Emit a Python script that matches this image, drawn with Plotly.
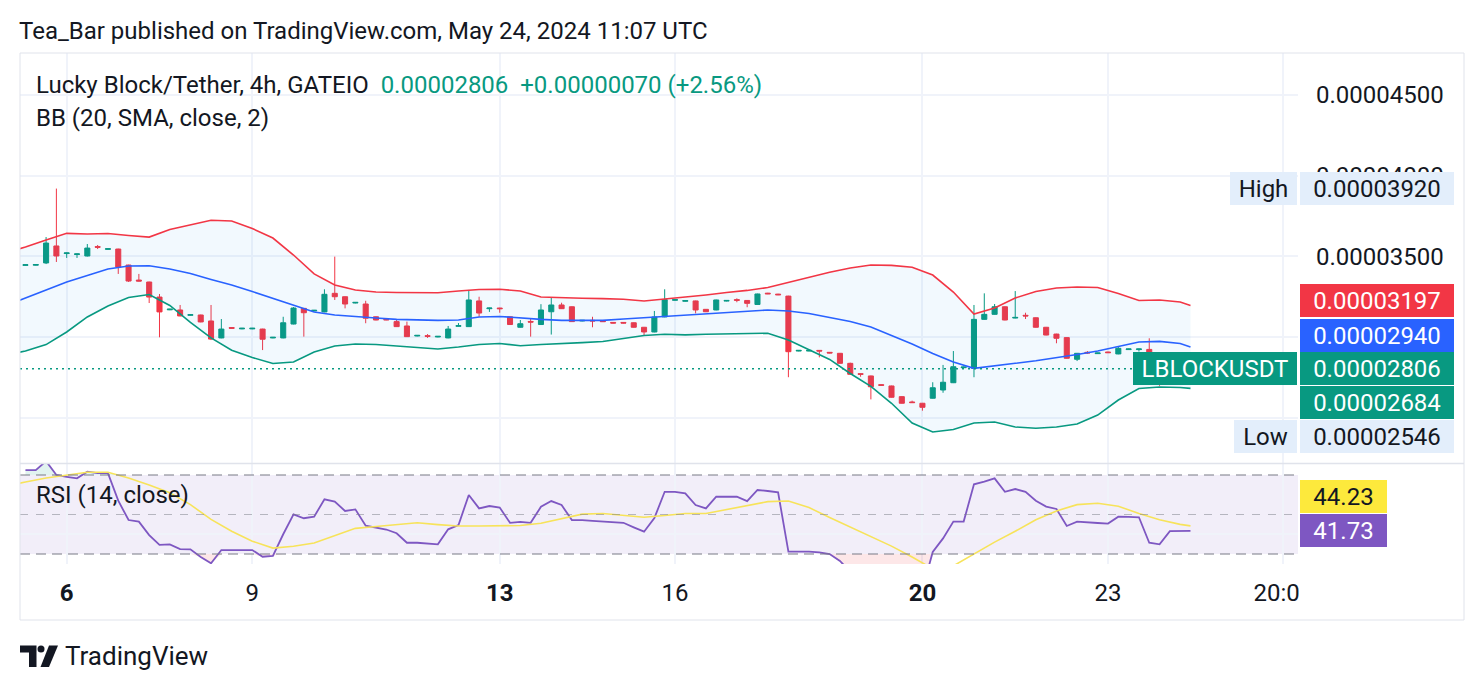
import numpy as np
import pandas as pd
import plotly.graph_objects as go

# ---------------- data ----------------
# 4h candles of LBLOCK/USDT (GATEIO); prices in units of 1e-8 USDT
open_e8 = [3445, 3446, 3460, 3565, 3518, 3512, 3503, 3561, 3544, 3546,
           3447, 3354, 3342, 3249, 3170, 3169, 3136, 3138, 3101, 2996,
           3060, 3052, 3052, 3051, 2996, 2996, 3082, 3179, 3163, 3157,
           3272, 3251, 3212, 3206, 3127, 3112, 3097, 3070, 3008, 3010,
           3002, 2996, 3068, 3066, 3225, 3177, 3181, 3127, 3062, 3098,
           3079, 3158, 3200, 3189, 3101, 3105, 3101, 3092, 3092, 3090,
           3062, 3033, 3126, 3229, 3223, 3225, 3173, 3169, 3224, 3233,
           3228, 3203, 3273, 3267, 3255, 2915, 2915, 2919, 2907, 2901,
           2839, 2775, 2761, 2707, 2699, 2633, 2600, 2592, 2623, 2674,
           2719, 2812, 2808, 3111, 3142, 3189, 3119, 3136, 3121, 3062,
           3020, 2998, 2864, 2907, 2899, 2909, 2897, 2924, 2924, 2925,
           2760, 2730, 2790, 2736]
high_e8 = [3450, 3451, 3620, 3920, 3524, 3518, 3577, 3571, 3550, 3548,
           3449, 3392, 3344, 3268, 3176, 3200, 3142, 3140, 3200, 3113,
           3062, 3058, 3058, 3053, 3002, 3127, 3187, 3181, 3169, 3297,
           3499, 3253, 3218, 3226, 3129, 3114, 3107, 3097, 3014, 3020,
           3008, 3070, 3088, 3293, 3251, 3183, 3183, 3129, 3107, 3118,
           3205, 3245, 3214, 3191, 3107, 3127, 3103, 3094, 3094, 3092,
           3064, 3163, 3297, 3235, 3229, 3227, 3175, 3233, 3230, 3241,
           3230, 3270, 3275, 3269, 3257, 2921, 2921, 2921, 2909, 2903,
           2843, 2777, 2763, 2709, 2701, 2635, 2608, 2594, 2722, 2829,
           2915, 2818, 3200, 3272, 3206, 3191, 3286, 3152, 3123, 3064,
           3022, 3000, 2903, 2915, 2905, 2911, 2946, 2930, 2930, 2994,
           2775, 2800, 2800, 2820]
low_e8 = [3443, 3444, 3453, 3466, 3491, 3491, 3500, 3546, 3542, 3392,
          3342, 3346, 3212, 3000, 3168, 3130, 3134, 3093, 2983, 2994,
          3054, 3050, 3050, 2921, 2994, 2994, 3080, 3004, 3161, 3155,
          3231, 3179, 3210, 3087, 3105, 3106, 3064, 3002, 3006, 2996,
          3000, 2994, 3066, 3064, 3127, 3157, 3152, 3077, 3060, 3004,
          3077, 3017, 3175, 3095, 3099, 3062, 3095, 3086, 3086, 3060,
          3008, 3031, 3124, 3227, 3221, 3148, 3156, 3167, 3222, 3217,
          3186, 3201, 3267, 3261, 2753, 2913, 2913, 2876, 2901, 2837,
          2769, 2756, 2616, 2701, 2627, 2590, 2594, 2546, 2621, 2657,
          2717, 2810, 2753, 3109, 3140, 3105, 3117, 3113, 3060, 3012,
          2963, 2868, 2853, 2897, 2897, 2903, 2895, 2922, 2912, 2740,
          2700, 2720, 2725, 2730]
close_e8 = [3449, 3450, 3583, 3503, 3522, 3516, 3552, 3557, 3548, 3435,
            3348, 3348, 3249, 3157, 3174, 3132, 3140, 3095, 2989, 3051,
            3056, 3056, 3056, 2988, 3000, 3090, 3181, 3152, 3167, 3266,
            3251, 3206, 3216, 3118, 3107, 3108, 3066, 3004, 3012, 3006,
            3006, 3051, 3072, 3231, 3150, 3181, 3177, 3079, 3084, 3094,
            3169, 3200, 3177, 3097, 3105, 3101, 3097, 3088, 3088, 3062,
            3033, 3126, 3233, 3233, 3227, 3169, 3158, 3231, 3228, 3229,
            3210, 3268, 3269, 3263, 2911, 2919, 2919, 2915, 2903, 2839,
            2771, 2771, 2694, 2703, 2629, 2592, 2596, 2567, 2688, 2722,
            2818, 2816, 3111, 3142, 3189, 3107, 3123, 3132, 3062, 3014,
            2994, 2870, 2901, 2903, 2903, 2905, 2932, 2928, 2928, 2760,
            2730, 2790, 2736, 2806]

# bar times (one 4h bar missing on May 14)
times = pd.date_range("2024-05-05 08:00", periods=115, freq="4h").drop(
    pd.Timestamp("2024-05-14 04:00"))

# Bollinger Bands (20, SMA, close, 2) and RSI-based MA, read at these bar numbers
smooth_k = [-1, 0] + list(range(2, 113, 2)) + [113]
bb_upper_e8 = [3540, 3559, 3602, 3643, 3639, 3642, 3630, 3620, 3667, 3695,
               3724, 3719, 3673, 3614, 3509, 3392, 3324, 3293, 3280, 3277,
               3276, 3276, 3286, 3296, 3297, 3286, 3249, 3244, 3242, 3239,
               3235, 3225, 3236, 3247, 3262, 3277, 3290, 3308, 3339, 3373,
               3402, 3429, 3447, 3445, 3433, 3385, 3280, 3144, 3181, 3243,
               3283, 3305, 3311, 3308, 3271, 3228, 3231, 3218, 3197]
bb_basis_e8 = [3218, 3243, 3293, 3342, 3382, 3423, 3441, 3443, 3423, 3395,
               3358, 3324, 3283, 3240, 3197, 3157, 3138, 3127, 3119, 3111,
               3108, 3105, 3107, 3126, 3129, 3119, 3111, 3105, 3104, 3105,
               3113, 3121, 3129, 3133, 3141, 3150, 3160, 3169, 3163, 3147,
               3122, 3098, 3064, 3014, 2959, 2900, 2847, 2808, 2822, 2839,
               2855, 2873, 2894, 2915, 2942, 2971, 2975, 2962, 2940]
bb_lower_e8 = [2903, 2915, 2955, 3033, 3126, 3194, 3246, 3265, 3197, 3092,
               2996, 2920, 2875, 2838, 2847, 2909, 2946, 2959, 2955, 2946,
               2934, 2928, 2940, 2955, 2962, 2948, 2955, 2963, 2967, 2974,
               2994, 3011, 3019, 3015, 3019, 3022, 3024, 3025, 2983, 2925,
               2863, 2776, 2696, 2592, 2470, 2414, 2430, 2470, 2476, 2445,
               2437, 2445, 2464, 2519, 2612, 2683, 2693, 2689, 2684]
rsi_ma = [65.3, 66.5, 68.5, 70, 71.4, 71.4, 68.5, 65, 61, 55,
          47.5, 41.5, 36.5, 33, 33.9, 35.6, 39.4, 43, 43.9, 45,
          45.8, 44.9, 44.2, 44.2, 44.2, 44.4, 45.6, 48, 50.2, 50.5,
          49.6, 48.6, 49.5, 50.5, 50.5, 52.5, 54.3, 56.5, 56.8, 53.5,
          48.5, 43.8, 39, 34, 28.5, 22.5, 24, 30, 36, 41.5,
          47.3, 51.8, 55, 55.7, 54.2, 50.5, 47.3, 45, 44.23]

# RSI (14, close), one value per bar
rsi = [72.5, 72.5, 77, 70, 69.1, 68.3, 71.7, 71, 70.9, 57,
       47.2, 46.4, 39.6, 34.6, 34.9, 32.5, 32.4, 28.5, 25.3, 32,
       32, 32, 32, 28.6, 29.1, 40, 50.1, 48.1, 48.9, 57.7,
       56.5, 51.8, 52.6, 44.3, 43.3, 42.4, 40.5, 35.7, 35.7, 35.3,
       34.9, 42.5, 44.7, 59.9, 53.1, 54.3, 53.5, 45.8, 46.3, 45.8,
       53.9, 56.8, 54.8, 47.2, 47.2, 46.8, 46.4, 46.1, 45.8, 43.5,
       41.3, 48.2, 61.5, 61.5, 60.7, 54.8, 53.1, 59, 59, 59,
       56.8, 62.4, 61.9, 61.2, 31.2, 31.2, 31.2, 30.8, 30, 26.5,
       21, 20.5, 17, 17.5, 15, 13.5, 13.3, 12, 31, 37.9,
       46.4, 46.4, 65.3, 66.6, 68.3, 61.5, 62.9, 61.5, 57, 54,
       52.8, 44.2, 46.4, 45.9, 45.7, 45.4, 48.9, 48.8, 48.6, 35.7,
       34.9, 41.6, 41.7, 41.73]

tick_times = ["2024-05-06 00:00", "2024-05-09 00:00", "2024-05-13 00:00",
              "2024-05-16 00:00", "2024-05-20 00:00", "2024-05-23 00:00",
              "2024-05-25 20:00"]
tick_text = ["<b>6</b>", "9", "<b>13</b>", "16", "<b>20</b>", "23", "20:00"]
price_ticks = [0.000025, 0.00003, 0.000035, 0.00004, 0.000045]
# labels of 0.00003000 / 0.00002500 sit under the value boxes on the scale
price_tick_text = ["", "", "0.00003500", "0.00004000", "0.00004500"]

# ---------------- styling ----------------
SCALE = 1e-8
UP, DN, BLUE = "#089981", "#F23645", "#2962FF"
PURPLE, YELLOW = "#7E57C2", "#F7E35A"
GRID, TXT, FRAME = "#F0F3FA", "#131722", "#E0E3EB"
FONT = "Roboto"
FS = 24

W, H = 1484, 690
PL, PR, PT, PB = 20, 1298, 53, 564


def px_x(x):
    return (x - PL) / (PR - PL)


def px_y(y):
    return (PB - y) / (PB - PT)


def bar_pos(t):
    t = pd.Timestamp(t)
    if t in times:
        return times.get_loc(t)
    return len(times) - 1 + (t - times[-1]) / pd.Timedelta("4h")


xk = np.arange(len(times))
o = np.array(open_e8) * SCALE
h = np.array(high_e8) * SCALE
lo = np.array(low_e8) * SCALE
c = np.array(close_e8) * SCALE
bbu = np.array(bb_upper_e8) * SCALE
bbm = np.array(bb_basis_e8) * SCALE
bbl = np.array(bb_lower_e8) * SCALE
rsi_a = np.array(rsi)
tickvals = [bar_pos(t) for t in tick_times]
hover_t = [t.strftime("%Y-%m-%d %H:%M") for t in times]

fig = go.Figure()

# Bollinger bands
fig.add_trace(go.Scatter(x=smooth_k, y=bbu, mode="lines", line=dict(color=DN, width=1.6),
                         hoverinfo="skip", showlegend=False))
fig.add_trace(go.Scatter(x=smooth_k, y=bbl, mode="lines", line=dict(color=UP, width=1.6),
                         fill="tonexty", fillcolor="rgba(33,150,243,0.06)",
                         hoverinfo="skip", showlegend=False))
fig.add_trace(go.Scatter(x=smooth_k, y=bbm, mode="lines", line=dict(color=BLUE, width=1.6),
                         hoverinfo="skip", showlegend=False))

# candles
fig.add_trace(go.Candlestick(
    x=xk, open=o, high=h, low=lo, close=c, text=hover_t,
    increasing=dict(line=dict(color=UP, width=1), fillcolor=UP),
    decreasing=dict(line=dict(color=DN, width=1), fillcolor=DN),
    whiskerwidth=0, showlegend=False))

# RSI pane
n = len(xk)
fig.add_trace(go.Scatter(x=xk, y=[30] * n, mode="lines", line=dict(width=0),
                         xaxis="x2", yaxis="y2", hoverinfo="skip", showlegend=False))
fig.add_trace(go.Scatter(x=xk, y=np.minimum(rsi_a, 30), mode="lines", line=dict(width=0),
                         fill="tonexty", fillcolor="rgba(242,54,69,0.12)",
                         xaxis="x2", yaxis="y2", hoverinfo="skip", showlegend=False))
fig.add_trace(go.Scatter(x=xk, y=[70] * n, mode="lines", line=dict(width=0),
                         xaxis="x2", yaxis="y2", hoverinfo="skip", showlegend=False))
fig.add_trace(go.Scatter(x=xk, y=np.maximum(rsi_a, 70), mode="lines", line=dict(width=0),
                         fill="tonexty", fillcolor="rgba(8,153,129,0.12)",
                         xaxis="x2", yaxis="y2", hoverinfo="skip", showlegend=False))
fig.add_trace(go.Scatter(x=xk, y=rsi_a, mode="lines", line=dict(color=PURPLE, width=1.8),
                         xaxis="x2", yaxis="y2", showlegend=False))
fig.add_trace(go.Scatter(x=smooth_k, y=rsi_ma, mode="lines", line=dict(color=YELLOW, width=1.6),
                         xaxis="x2", yaxis="y2", showlegend=False))

# ranges
p_top = 0.00003 + (337.3 - PT) * 6.186e-8
p_bot = 0.00003 + (337.3 - 463) * 6.186e-8
x_lo = 4 + (PL - 66.7) / 10.31
x_hi = 4 + (PR - 66.7) / 10.31
main_dom = [px_y(463), 1]
rsi_dom = [0, px_y(464)]

shapes = [
    # RSI band background and levels
    dict(type="rect", xref="paper", yref="y2", x0=0, x1=1, y0=30, y1=70,
         fillcolor="rgba(126,87,194,0.10)", line=dict(width=0), layer="below"),
    dict(type="line", xref="paper", yref="y2", x0=0, x1=1, y0=70, y1=70,
         line=dict(color="#787B86", width=1.2, dash="10px,6px")),
    dict(type="line", xref="paper", yref="y2", x0=0, x1=1, y0=30, y1=30,
         line=dict(color="#787B86", width=1.2, dash="10px,6px")),
    dict(type="line", xref="paper", yref="y2", x0=0, x1=1, y0=50, y1=50,
         line=dict(color="rgba(120,123,134,0.5)", width=1.2, dash="8px,8px")),
    # last price line
    dict(type="line", xref="paper", yref="y", x0=0, x1=1, y0=c[-1], y1=c[-1],
         line=dict(color=UP, width=1.5, dash="2px,4px")),
    # time-scale labels are cut at the price-scale edge
    dict(type="rect", xref="paper", yref="paper", x0=px_x(1299), x1=px_x(1463),
         y0=px_y(619), y1=px_y(565), fillcolor="white", line=dict(width=0)),
    # frame and pane separator
    dict(type="rect", xref="paper", yref="paper", x0=0, x1=px_x(1464),
         y0=px_y(620), y1=1, line=dict(color=FRAME, width=1)),
    dict(type="line", xref="paper", yref="paper", x0=0, x1=px_x(1464),
         y0=px_y(463.5), y1=px_y(463.5), line=dict(color=FRAME, width=1.5)),
    # TradingView logo mark
    dict(type="path", xref="paper", yref="paper",
         path="M {a},{b} L {c},{b} L {c},{d} L {e},{d} L {e},{f} L {a},{f} Z".format(
             a=px_x(20), b=px_y(645.5), c=px_x(36.5), d=px_y(667), e=px_x(29), f=px_y(652.5)),
         fillcolor="#131722", line=dict(width=0)),
    dict(type="circle", xref="paper", yref="paper", x0=px_x(37.5), x1=px_x(44.5),
         y0=px_y(652.5), y1=px_y(645.5), fillcolor="#131722", line=dict(width=0)),
    dict(type="path", xref="paper", yref="paper",
         path="M {a},{b} L {c},{b} L {e},{f} L {g},{f} Z".format(
             a=px_x(49), b=px_y(645.5), c=px_x(58), e=px_x(49), f=px_y(667), g=px_x(40.5)),
         fillcolor="#131722", line=dict(width=0)),
]


def box(text, yval, yref, bg, fg, x_left, width, yshift=0, anchor="left"):
    return dict(text=text, xref="paper", yref=yref, x=px_x(x_left), y=yval,
                xanchor=anchor, yanchor="middle", yshift=yshift, showarrow=False,
                width=width, height=33, bgcolor=bg, borderpad=0, borderwidth=0,
                align="center", valign="middle", font=dict(family=FONT, size=FS, color=fg))


hi_v = h.max()
lo_v = lo.min()
fmt = "{:.8f}"
annotations = [
    dict(text="Tea_Bar published on TradingView.com, May 24, 2024 11:07 UTC",
         xref="paper", yref="paper", x=px_x(17), y=px_y(31), xanchor="left",
         yanchor="middle", showarrow=False, font=dict(family=FONT, size=FS, color=TXT)),
    dict(text="Lucky Block/Tether, 4h, GATEIO  <span style='color:%s'>%s  %+.8f (%+.2f%%)</span>" % (
        UP, fmt.format(c[-1]), c[-1] - c[-2], (c[-1] / c[-2] - 1) * 100),
         xref="paper", yref="paper", x=px_x(34), y=px_y(85), xanchor="left",
         yanchor="middle", showarrow=False, font=dict(family=FONT, size=FS, color=TXT)),
    dict(text="BB (20, SMA, close, 2)", xref="paper", yref="paper", x=px_x(34), y=px_y(118),
         xanchor="left", yanchor="middle", showarrow=False,
         font=dict(family=FONT, size=FS, color=TXT)),
    dict(text="RSI (14, close)", xref="paper", yref="paper", x=px_x(34), y=px_y(495),
         xanchor="left", yanchor="middle", showarrow=False,
         font=dict(family=FONT, size=FS, color=TXT)),
    dict(text="TradingView", xref="paper", yref="paper", x=px_x(63), y=px_y(656),
         xanchor="left", yanchor="middle", showarrow=False,
         font=dict(family=FONT, size=26, color=TXT)),
    # price scale labels
    box("High", hi_v, "y", "#E3EEFB", TXT, 1297, 67, 0, "right"),
    box(fmt.format(hi_v), hi_v, "y", "#E3EEFB", TXT, 1300, 154),
    box(fmt.format(bbu[-1]), bbu[-1], "y", DN, "white", 1300, 154, 5),
    box(fmt.format(bbm[-1]), bbm[-1], "y", BLUE, "white", 1300, 154, 12),
    box("LBLOCKUSDT", c[-1], "y", UP, "white", 1297, 164, 0, "right"),
    box(fmt.format(c[-1]), c[-1], "y", UP, "white", 1300, 154),
    box(fmt.format(bbl[-1]), bbl[-1], "y", UP, "white", 1300, 154, -14.5),
    box("Low", lo_v, "y", "#E3EEFB", TXT, 1297, 63, -25.7, "right"),
    box(fmt.format(lo_v), lo_v, "y", "#E3EEFB", TXT, 1300, 154, -25.7),
    # RSI scale labels
    box("%.2f" % rsi_ma[-1], rsi_ma[-1], "y2", "#FDE93C", TXT, 1300, 87, 29.4),
    box("%.2f" % rsi[-1], rsi[-1], "y2", PURPLE, "white", 1300, 87, 0),
]

fig.update_layout(
    width=W, height=H,
    margin=dict(l=PL, r=W - PR, t=PT, b=H - PB, pad=0),
    paper_bgcolor="white", plot_bgcolor="white",
    showlegend=False, hovermode="x",
    font=dict(family=FONT, size=FS, color=TXT),
    xaxis=dict(domain=[0, 1], anchor="y", range=[x_lo, x_hi], tickvals=tickvals,
               showticklabels=False, showgrid=True, gridcolor=GRID, gridwidth=1.5,
               zeroline=False, showline=False, ticks="", rangeslider=dict(visible=False)),
    xaxis2=dict(domain=[0, 1], anchor="y2", matches="x", range=[x_lo, x_hi],
                tickvals=tickvals, ticktext=tick_text, showgrid=True, gridcolor=GRID,
                gridwidth=1.5, zeroline=False, showline=False, ticks="",
                ticklabelstandoff=12, tickfont=dict(family=FONT, size=FS, color=TXT)),
    yaxis=dict(domain=main_dom, anchor="x", side="right", range=[p_bot, p_top],
               tickvals=price_ticks, ticktext=price_tick_text,
               showgrid=True, gridcolor=GRID, gridwidth=1.5, zeroline=False,
               showline=False, ticks="", ticklabelstandoff=17,
               tickfont=dict(family=FONT, size=FS, color=TXT)),
    yaxis2=dict(domain=rsi_dom, anchor="x2", side="right", range=[24.94, 75.57],
                tickvals=[40], showticklabels=False, showgrid=True, gridcolor=GRID,
                gridwidth=1.5, zeroline=False, showline=False, ticks=""),
    shapes=shapes,
    annotations=annotations,
)

fig.write_html("out.html")
